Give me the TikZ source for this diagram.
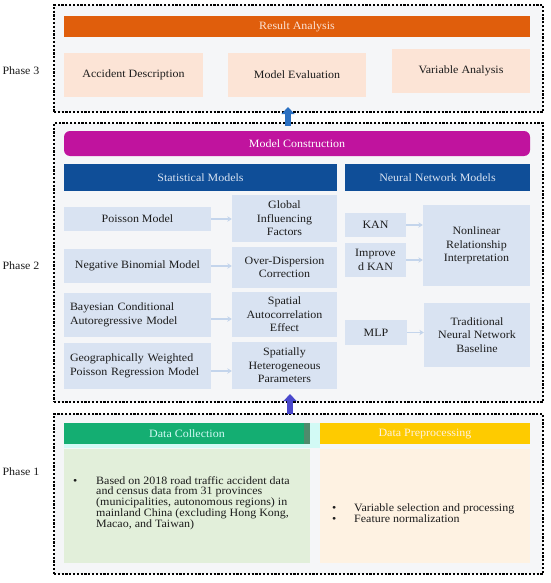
\documentclass[tikz,border=0pt]{standalone}
\usepackage{fontspec}
\setmainfont{Liberation Serif}[FakeStretch=1.07]
\usetikzlibrary{arrows.meta}

\definecolor{phasebg}{HTML}{F5F6F8}
\definecolor{resorange}{HTML}{E05E0C}
\definecolor{resbox}{HTML}{FCE4D6}
\definecolor{conmag}{HTML}{C0139E}
\definecolor{hdblue}{HTML}{0F4E98}
\definecolor{mbox}{HTML}{D9E3F2}
\definecolor{lnkblue}{HTML}{C4D5EC}
\definecolor{dcgreen}{HTML}{14AE72}
\definecolor{dcdark}{HTML}{4F8B6C}
\definecolor{dccyan}{HTML}{D2FAF5}
\definecolor{dcbody}{HTML}{E2EFDA}
\definecolor{dpyellow}{HTML}{FECB00}
\definecolor{dpbody}{HTML}{FEF2E2}
\definecolor{upblue}{HTML}{2A70C2}
\definecolor{upviolet}{HTML}{4A48CC}
\definecolor{txt}{HTML}{1C1C1C}

\begin{document}
\begin{tikzpicture}[x=1pt,y=-1pt]
    \tikzstyle{phase}=[draw, line width=2.2pt, dash pattern=on 2.2pt off 1.6pt, fill=phasebg, inner sep=0pt]
    \tikzstyle{box}=[inner sep=0pt, align=center, text=txt, font=\fontsize{11.2}{13.4}\selectfont]
    \tikzstyle{hd}=[box, text=white]
    \tikzstyle{lnk}=[draw=lnkblue, line width=1.5pt, -{Stealth[length=4.5pt,width=5.5pt]}]
    \tikzstyle{up}=[line width=6pt, -{Triangle[width=13pt,length=7pt]}]

    \useasboundingbox (0,0) rectangle (550,583);

    % phase 3
    \node[phase, minimum width=489pt, minimum height=107pt] (p3) at (298.5,58.5) {};
    \node[hd, fill=resorange, text=resbox, minimum width=466pt, minimum height=21pt] (res) at (297,26.5) {Result Analysis};
    \node[box, fill=resbox, minimum width=139pt, minimum height=44pt] (acc) at (133.5,75) {Accident Description};
    \node[box, fill=resbox, minimum width=138pt, minimum height=44pt] (meval) at (297,75) {Model Evaluation};
    \node[box, fill=resbox, minimum width=138pt, minimum height=44pt] (varan) at (461,71) {Variable Analysis};
    \node[box] (lab3) at (21,71) {Phase 3};

    % phase 2
    \node[phase, minimum width=489pt, minimum height=279pt] (p2) at (298.5,262.5) {};
    \node[hd, fill=conmag, rounded corners=6pt, minimum width=466pt, minimum height=25pt] (mcons) at (297,143.5) {Model Construction};
    \node[hd, fill=hdblue, text=mbox, minimum width=273pt, minimum height=27pt] (stat) at (200.5,177.5) {Statistical Models};
    \node[hd, fill=hdblue, text=mbox, minimum width=185pt, minimum height=27pt] (nn) at (437.5,177.5) {Neural Network Models};

    \node[box, fill=mbox, minimum width=147pt, minimum height=24pt] (pois) at (137.5,219) {Poisson Model};
    \node[box, fill=mbox, minimum width=147pt, minimum height=34pt] (negbin) at (137.5,266) {Negative Binomial Model};
    \node[box, fill=mbox, align=left, text width=135pt, inner xsep=6pt, minimum height=44pt] (bayes) at (137.5,315) {Bayesian Conditional\\Autoregressive Model};
    \node[box, fill=mbox, align=left, text width=135pt, inner xsep=6pt, minimum height=46pt] (gwpr) at (137.5,366) {Geographically Weighted\\Poisson Regression Model};

    \node[box, fill=mbox, minimum width=105pt, minimum height=47pt] (glob) at (284.5,218.5) {Global\\Influencing\\Factors};
    \node[box, fill=mbox, minimum width=105pt, minimum height=41pt] (overd) at (284.5,267.5) {Over-Dispersion\\Correction};
    \node[box, fill=mbox, minimum width=105pt, minimum height=45pt] (spac) at (284.5,314.5) {Spatial\\Autocorrelation\\Effect};
    \node[box, fill=mbox, minimum width=105pt, minimum height=47pt] (shet) at (284.5,365.5) {Spatially\\Heterogeneous\\Parameters};

    \node[box, fill=mbox, minimum width=61pt, minimum height=24pt] (kan) at (375.5,225) {KAN};
    \node[box, fill=mbox, minimum width=61pt, minimum height=34pt] (ikan) at (375.5,260) {Improve\\d KAN};
    \node[box, fill=mbox, minimum width=62pt, minimum height=25pt] (mlp) at (376,332.5) {MLP};
    \node[box, fill=mbox, minimum width=107pt, minimum height=81pt] (nonlin) at (476.5,245.5) {Nonlinear\\Relationship\\Interpretation};
    \node[box, fill=mbox, minimum width=106pt, minimum height=64pt] (trad) at (477,335) {Traditional\\Neural Network\\Baseline};
    \node[box] (lab2) at (21,266) {Phase 2};

    \draw[lnk] (pois.east) -- (pois.east -| glob.west);
    \draw[lnk] (negbin.east) -- (negbin.east -| overd.west);
    \draw[lnk] ([yshift=-4pt]bayes.east) -- ([yshift=-4pt]bayes.east -| spac.west);
    \draw[lnk] ([yshift=-5pt]gwpr.east) -- ([yshift=-5pt]gwpr.east -| shet.west);
    \draw[lnk] (kan.east) -- (kan.east -| nonlin.west);
    \draw[lnk] (ikan.east) -- (ikan.east -| nonlin.west);
    \draw[lnk] (mlp.east) -- (mlp.east -| trad.west);

    % phase 1
    \node[phase, minimum width=489pt, minimum height=160pt] (p1) at (298.5,494) {};
    \node[fill=dccyan, inner sep=0pt, minimum width=256pt, minimum height=25pt] (dcbg) at (192,435.5) {};
    \node[hd, fill=dcgreen, text=dccyan, minimum width=246pt, minimum height=21pt] (dchead) at (187,433.5) {Data Collection};
    \fill[dcdark] ([xshift=-6pt]dchead.north east) rectangle (dchead.south east);
    \node[hd, fill=dpyellow, text=dpbody, minimum width=210pt, minimum height=21pt] (dphead) at (425,433.5) {Data Preprocessing};
    \node[box, fill=dcbody, minimum width=246pt, minimum height=114pt] (dcbody) at (187,506) {};
    \node[box, fill=dpbody, minimum width=210pt, minimum height=114pt] (dpbody) at (425,506) {};
    \node[box, anchor=west, align=left, font=\fontsize{11.2}{10.8}\selectfont] (dclist) at (73,503)
        {\makebox[23pt][l]{\textbullet}\parbox[t]{208pt}{\raggedright Based on 2018 road traffic accident data\\and census data from 31 provinces\\(municipalities, autonomous regions) in\\mainland China (excluding Hong Kong,\\Macao, and Taiwan)}};
    \node[box, anchor=west, align=left, font=\fontsize{11.2}{11.3}\selectfont] (dplist) at (332,513)
        {\makebox[22pt][l]{\textbullet}Variable selection and processing\\\makebox[22pt][l]{\textbullet}Feature normalization};
    \node[box] (lab1) at (21,472) {Phase 1};

    % upward arrows between phases
    \draw[up, upblue] ([xshift=-10.5pt,yshift=-4pt]p2.north) -- ([xshift=-10.5pt,yshift=6pt]p3.south);
    \draw[up, upviolet] ([xshift=-8.5pt,yshift=-1pt]p1.north) -- ([xshift=-8.5pt,yshift=9pt]p2.south);
\end{tikzpicture}
\end{document}
